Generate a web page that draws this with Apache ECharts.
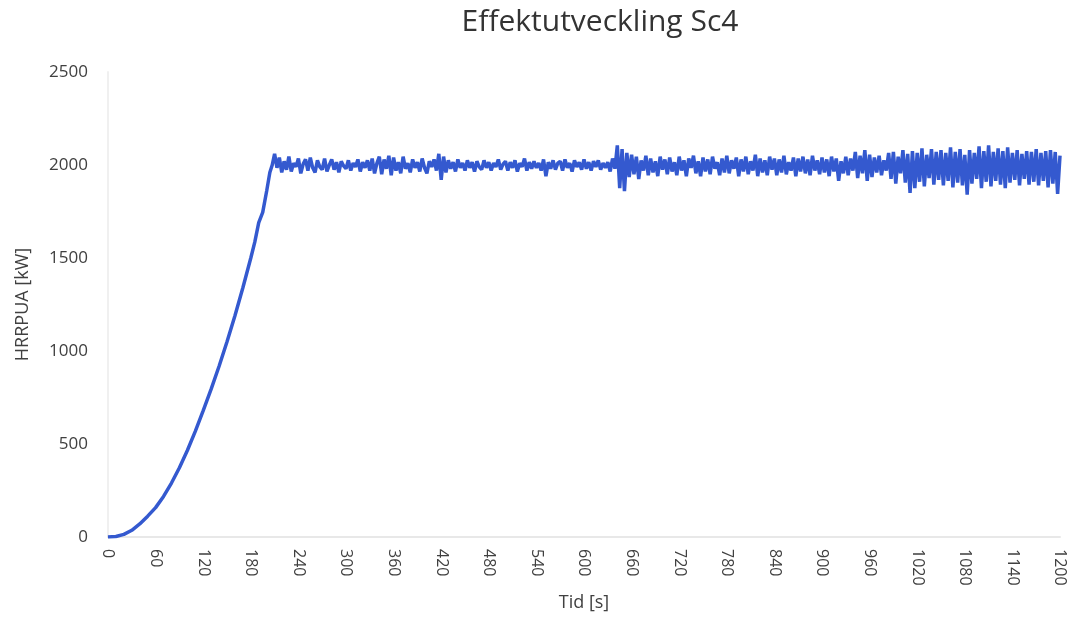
<!DOCTYPE html>
<html>
<head>
<meta charset="utf-8">
<script src="https://cdn.jsdelivr.net/npm/echarts@6/dist/echarts.min.js"></script>
<style>
  html, body { margin: 0; padding: 0; background: #fff; }
  #chart { width: 1076px; height: 620px; }
</style>
</head>
<body>
<div id="chart"></div>
<script>
// growth phase (t in s, HRR in kW)
const rampTimes = [0, 10, 20, 30, 40, 50, 60, 70, 80, 90, 100, 110, 120, 130, 140, 150, 160, 170, 180, 185, 190, 195, 200, 204, 207];
const rampValues = [0, 3, 14, 36, 70, 112, 158, 218, 290, 372, 465, 568, 680, 795, 918, 1050, 1190, 1340, 1500, 1585, 1690, 1745, 1860, 1960, 2000];

// steady phase, one reading every 3 s from 210 s
const plateauStart = 210;
const plateauStep = 3;
const plateauValues = [
  2060, 1985, 2040, 1960, 2020, 1975, 2045, 1965, 2010, 1990,
  2035, 1955, 2005, 2030, 1970, 2040, 1985, 1960, 2025, 1990,
  1975, 2035, 1965, 2000, 2030, 1975, 2015, 1960, 2020, 1995,
  1980, 2025, 1970, 2010, 1990, 2030, 1965, 2015, 1985, 2025,
  1970, 2035, 1955, 2010, 2045, 1950, 2030, 1980, 2050, 1945,
  2040, 1970, 2015, 1955, 2045, 1980, 2010, 1960, 2030, 1985,
  2015, 1965, 2035, 1985, 1955, 2020, 1990, 2030, 1970, 2060,
  1920, 2045, 1960, 2025, 1980, 2015, 1965, 2030, 1985, 2010,
  1970, 2025, 1985, 2015, 1965, 2020, 1990, 1975, 2025, 1985,
  2015, 1970, 2010, 1990, 2030, 1975, 2005, 2020, 1970, 2015,
  1985, 2025, 1965, 2010, 1990, 2035, 1970, 2015, 1980, 2020,
  1985, 2010, 1970, 2030, 1940, 2015, 1980, 2025, 1975, 2010,
  2020, 1970, 2030, 1985, 2010, 1965, 2025, 1990, 2015, 1975,
  2030, 1980, 2015, 1970, 2020, 1990, 2025, 1975, 2010, 1985,
  2015, 1965, 2035, 1980, 2105, 1875, 2085, 1860, 2065, 1935,
  2055, 1950, 2045, 1925, 2025, 1970, 2050, 1945, 2035, 1960,
  2020, 1940, 2045, 1975, 2030, 1950, 2040, 1965, 2015, 1945,
  2045, 1970, 2025, 1940, 2035, 1985, 2050, 1955, 2020, 1940,
  2040, 1965, 2030, 1950, 2045, 1980, 2015, 1945, 2035, 1960,
  2050, 1955, 2025, 1980, 2040, 1940, 2030, 1965, 2045, 1950,
  2020, 1970, 2055, 1940, 2035, 1960, 2025, 1945, 2045, 1975,
  2035, 1945, 2030, 1960, 2050, 1950, 2015, 1970, 2040, 1940,
  2035, 1965, 2045, 1955, 2030, 1945, 2050, 1970, 2025, 1950,
  2040, 1960, 2030, 1940, 2045, 1965, 2035, 1915, 2020, 1955,
  2045, 1945, 2035, 1970, 2070, 1930, 2050, 1955, 2080, 1915,
  2055, 1935, 2040, 1960, 2050, 1945, 2025, 1970, 2065, 1925,
  2070, 1900, 2045, 1955, 2080, 1905, 2060, 1850, 2075, 1875,
  2065, 1910, 2090, 1885, 2055, 1930, 2085, 1895, 2070, 1920,
  2080, 1890, 2065, 1915, 2095, 1880, 2070, 1905, 2085, 1890,
  2055, 1840, 2080, 1900, 2065, 1925, 2100, 1875, 2075, 1910,
  2105, 1885, 2070, 1915, 2090, 1895, 2075, 1875, 2095, 1905,
  2065, 1920, 2080, 1890, 2060, 1925, 2075, 1895, 2070, 1910,
  2085, 1890, 2065, 1915, 2075, 1880, 2080, 1900, 2070, 1845,
  2050
];

const xTicks = [0, 60, 120, 180, 240, 300, 360, 420, 480, 540, 600, 660, 720, 780, 840, 900, 960, 1020, 1080, 1140, 1200];
const yTicks = [0, 500, 1000, 1500, 2000, 2500];

const seriesData = rampTimes.map((t, i) => [t, rampValues[i]]);
plateauValues.forEach((v, i) => seriesData.push([plateauStart + i * plateauStep, v]));

const chart = echarts.init(document.getElementById('chart'));
const font = '"Open Sans", sans-serif';

chart.setOption({
  animation: false,
  textStyle: { fontFamily: font },
  title: {
    text: 'Effektutveckling Sc4',
    left: 595,
    textAlign: 'center',
    top: 2,
    textStyle: { fontFamily: font, fontSize: 30, fontWeight: 'normal', color: '#333' }
  },
  grid: { left: 108, right: 16, top: 72, bottom: 83, containLabel: false },
  xAxis: {
    type: 'value',
    min: xTicks[0],
    max: xTicks[xTicks.length - 1],
    interval: 60,
    name: 'Tid [s]',
    nameLocation: 'middle',
    nameGap: 56,
    nameTextStyle: { fontFamily: font, fontSize: 18, color: '#404040' },
    axisLine: { show: true, lineStyle: { color: '#e8e8e8', width: 2 } },
    axisTick: { show: false },
    splitLine: { show: false },
    axisLabel: {
      rotate: -90, fontSize: 16, color: '#404040', margin: 12, fontFamily: font,
      formatter: v => String(v)
    }
  },
  yAxis: {
    type: 'value',
    min: yTicks[0],
    max: yTicks[yTicks.length - 1],
    interval: 500,
    name: 'HRRPUA [kW]',
    nameLocation: 'middle',
    nameGap: 76,
    nameTextStyle: { fontFamily: font, fontSize: 18, color: '#404040' },
    axisLine: { show: true, lineStyle: { color: '#f0f0f0', width: 2 } },
    axisTick: { show: false },
    splitLine: { show: false },
    axisLabel: {
      fontSize: 17, color: '#404040', margin: 20, fontFamily: font,
      formatter: v => String(v)
    }
  },
  series: [{
    type: 'line',
    data: seriesData,
    showSymbol: false,
    lineStyle: { color: '#3459cf', width: 3.5 },
    itemStyle: { color: '#3459cf' }
  }]
});
</script>
</body>
</html>
